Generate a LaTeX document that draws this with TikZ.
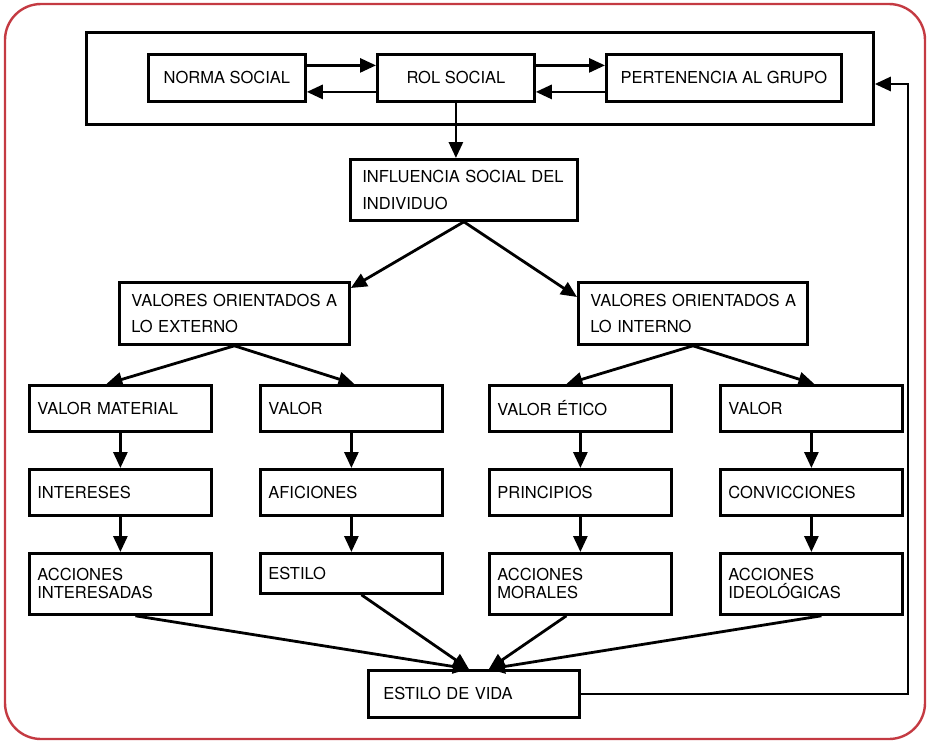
\documentclass[tikz,border=0pt]{standalone}
\usepackage{fontspec}
\setmainfont{TeX Gyre Heros}
\usetikzlibrary{arrows.meta}
\definecolor{framered}{RGB}{196,58,66}
\begin{document}
\begin{tikzpicture}[x=1pt,y=-1pt,
  box/.style={draw,line width=2.8pt,inner ysep=0pt,anchor=north west,
    font=\fontsize{16.5}{18}\selectfont},
  cbox/.style={box,align=center,minimum height=47pt},
  colbox/.style={box,minimum width=182pt,text width=166pt,inner xsep=8pt,align=left},
  widebox/.style={box,inner xsep=12pt,align=left,minimum height=62pt,
    font=\fontsize{16.5}{26.5}\selectfont},
  arr/.style={line width=2.8pt,-{Triangle[length=16pt,width=14pt]}}
]
\useasboundingbox (0,0) rectangle (927,742);
\draw[framered,line width=2.4pt,rounded corners=36pt] (5,4) rectangle (925,739);

% group of social factors
\node[box,minimum width=787pt,minimum height=92pt] (outer) at (85,31) {};
\node[cbox,minimum width=157pt] (norma) at (147,53) {NORMA SOCIAL};
\node[cbox,minimum width=157pt] (rol) at (376,53) {ROL SOCIAL};
\node[cbox,minimum width=235pt] (pert) at (605,53) {PERTENENCIA AL GRUPO};

\draw[arr] ([yshift=12.5pt]norma.east) -- ([yshift=12.5pt]rol.west);
\draw[arr] ([yshift=-14pt]rol.west) -- ([yshift=-14pt]norma.east);
\draw[arr] ([yshift=12.5pt]rol.east) -- ([yshift=12.5pt]pert.west);
\draw[arr] ([yshift=-14pt]pert.west) -- ([yshift=-14pt]rol.east);

% influence and value orientations
\node[widebox,minimum width=227pt,text width=203pt,minimum height=61pt] (infl) at (349,158)
  {\mbox{INFLUENCIA SOCIAL DEL}\\INDIVIDUO};
\node[widebox,minimum width=230pt,text width=206pt] (ext) at (118,281)
  {\mbox{VALORES ORIENTADOS A}\\LO EXTERNO};
\node[widebox,minimum width=229pt,text width=205pt] (int) at (577,281)
  {\mbox{VALORES ORIENTADOS A}\\LO INTERNO};

\draw[arr] (rol.south) -- (rol.south |- infl.north);
\draw[arr] (infl.south) -- ([yshift=-7pt]ext.north east);
\draw[arr] (infl.south) -- ([yshift=-16pt]int.north west);

% four columns
\node[colbox,minimum height=46pt] (vm) at (28,384) {VALOR MATERIAL};
\node[colbox,minimum height=46pt] (va1) at (259,384) {VALOR};
\node[colbox,minimum height=46pt] (ve) at (488,384) {VALOR ÉTICO};
\node[colbox,minimum height=46pt] (va2) at (719,384) {VALOR};

\node[colbox,minimum height=46pt] (inter) at (28,468) {INTERESES};
\node[colbox,minimum height=46pt] (afic) at (259,468) {AFICIONES};
\node[colbox,minimum height=46pt] (princ) at (488,468) {PRINCIPIOS};
\node[colbox,minimum height=46pt] (conv) at (719,468) {CONVICCIONES};

\node[colbox,minimum height=61pt] (accint) at (28,552) {ACCIONES\\INTERESADAS};
\node[colbox,minimum height=40pt] (est) at (259,552) {ESTILO};
\node[colbox,minimum height=61pt] (accmor) at (488,552) {ACCIONES\\MORALES};
\node[colbox,minimum height=61pt] (accid) at (719,552) {ACCIONES\\IDEOLÓGICAS};

\draw[arr] (ext.south) -- ([xshift=-14pt]vm.north);
\draw[arr] (ext.south) -- ([xshift=3pt]va1.north);
\draw[arr] (int.south) -- ([xshift=-14pt]ve.north);
\draw[arr] (int.south) -- ([xshift=3pt]va2.north);

\foreach \a/\b in {vm/inter,inter/accint,va1/afic,afic/est,ve/princ,princ/accmor,va2/conv,conv/accid}
  \draw[arr] (\a.south) -- (\b.north);

% life style and feedback
\node[box,minimum width=211pt,minimum height=47pt,text width=181pt,inner xsep=15pt,align=left] (vida) at (367,669) {ESTILO DE VIDA};

\draw[arr] ([xshift=15pt]accint.south) -- ([xshift=-5pt]vida.north);
\draw[arr] ([xshift=10pt]est.south) -- ([xshift=-5pt]vida.north);
\draw[arr] ([xshift=-14pt]accmor.south) -- ([xshift=15pt]vida.north);
\draw[arr] ([xshift=10pt]accid.south) -- ([xshift=15pt]vida.north);

\coordinate (fb) at (908,84);
\draw[arr] (vida.east) -| (fb) -- (outer.east |- fb);
\end{tikzpicture}
\end{document}
